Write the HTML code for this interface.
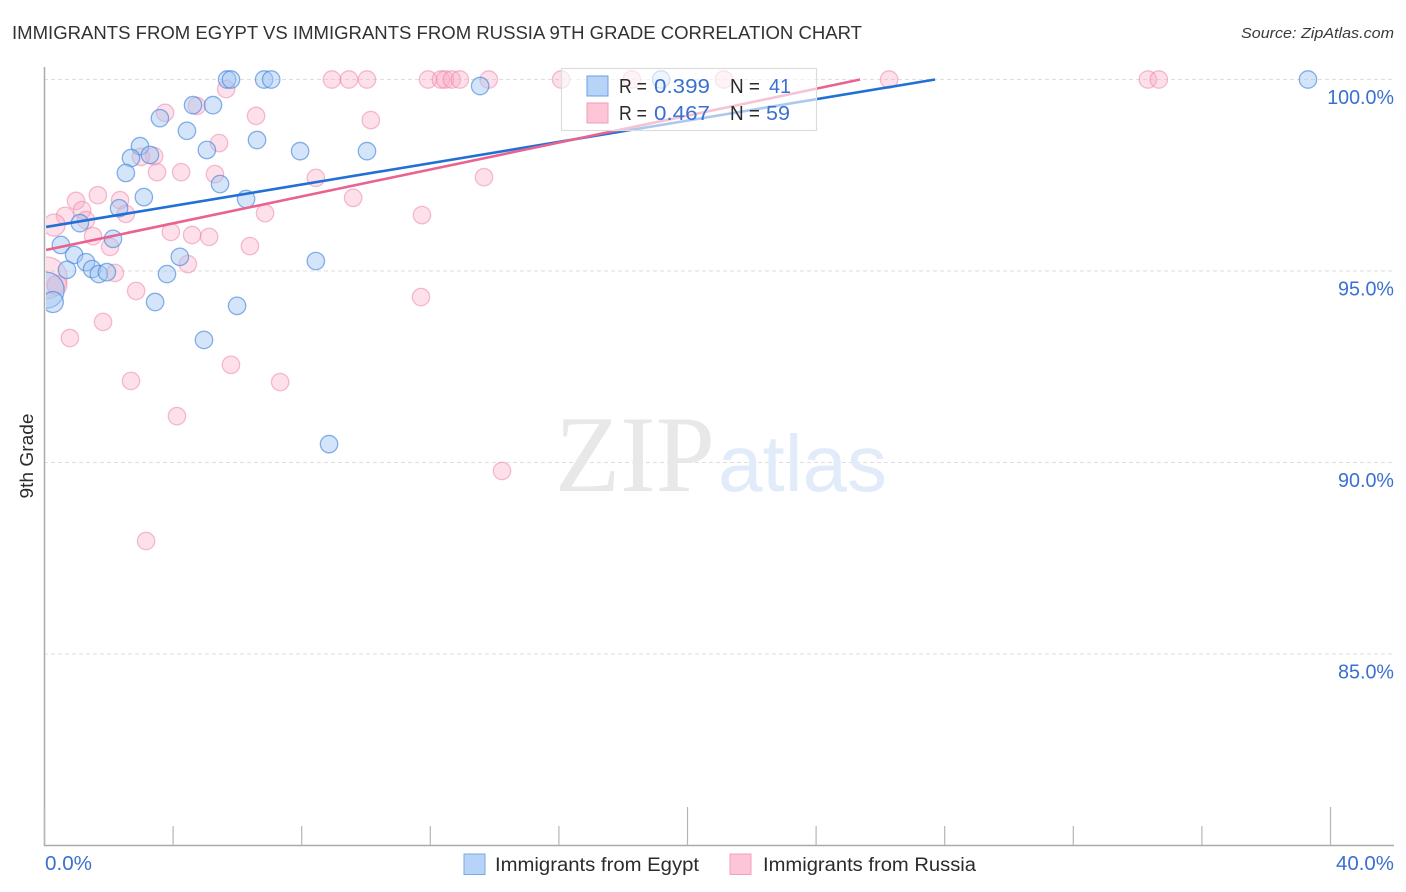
<!DOCTYPE html>
<html lang="en">
<head>
<meta charset="utf-8">
<title>Immigrants from Egypt vs Immigrants from Russia 9th Grade Correlation Chart</title>
<style>
html,body{margin:0;padding:0;background:#fff;}
svg{display:block;font-family:"Liberation Sans",Arial,sans-serif;}
</style>
</head>
<body>
<svg id="chart" xmlns="http://www.w3.org/2000/svg" width="1406" height="892" viewBox="0 0 1406 892">
  <defs>
    <clipPath id="plot-clip"><rect x="46" y="60" width="1348" height="785"/></clipPath>
  </defs>
  <text x="12" y="39" font-size="18.5" fill="#2f3337" textLength="850" lengthAdjust="spacingAndGlyphs">IMMIGRANTS FROM EGYPT VS IMMIGRANTS FROM RUSSIA 9TH GRADE CORRELATION CHART</text>
  <text x="1394" y="38" font-size="15" font-style="italic" fill="#3a3a3a" text-anchor="end" textLength="153" lengthAdjust="spacingAndGlyphs">Source: ZipAtlas.com</text>

  <g id="grid"></g>

  <g>
    <text x="555" y="491" font-family="'Liberation Serif',serif" font-size="109" fill="#e8e8e8" textLength="160" lengthAdjust="spacingAndGlyphs">ZIP</text>
    <text x="718" y="491" font-size="80" fill="#e2ebf9" textLength="169" lengthAdjust="spacingAndGlyphs">atlas</text>
  </g>

  <g id="axes"></g>
  <g id="points" clip-path="url(#plot-clip)"></g>
  <g id="trends" clip-path="url(#plot-clip)"></g>

  <g>
    <rect x="561.5" y="68.5" width="255" height="62" fill="#ffffff" fill-opacity="0.62" stroke="#dcdcdc" stroke-width="1.2"/>
    <rect x="587" y="76" width="21" height="20" fill="#b7d3f8" stroke="#6b9fe3" stroke-width="1"/>
    <rect x="587" y="103" width="21" height="20" fill="#fcc6d8" stroke="#f09cb8" stroke-width="1"/>
    <text x="619" y="93" font-size="20" fill="#2b2b2b" textLength="28" lengthAdjust="spacingAndGlyphs">R =</text>
    <text x="654" y="93" font-size="20" fill="#3a70d0" textLength="56" lengthAdjust="spacingAndGlyphs">0.399</text>
    <text x="730" y="93" font-size="20" fill="#2b2b2b" textLength="30" lengthAdjust="spacingAndGlyphs">N =</text>
    <text x="769" y="93" font-size="20" fill="#3a70d0" textLength="22" lengthAdjust="spacingAndGlyphs">41</text>
    <text x="619" y="120" font-size="20" fill="#2b2b2b" textLength="28" lengthAdjust="spacingAndGlyphs">R =</text>
    <text x="654" y="120" font-size="20" fill="#3a70d0" textLength="56" lengthAdjust="spacingAndGlyphs">0.467</text>
    <text x="730" y="120" font-size="20" fill="#2b2b2b" textLength="30" lengthAdjust="spacingAndGlyphs">N =</text>
    <text x="766" y="120" font-size="20" fill="#3a70d0" textLength="24" lengthAdjust="spacingAndGlyphs">59</text>
  </g>

  <text transform="translate(33,456) rotate(-90)" font-size="18" fill="#2b2b2b" text-anchor="middle" textLength="85" lengthAdjust="spacingAndGlyphs">9th Grade</text>

  <g>
    <rect x="464" y="854" width="21" height="20.5" fill="#b7d3f8" stroke="#7aa8e6" stroke-width="1"/>
    <text x="495" y="871" font-size="19" fill="#2b2b2b" textLength="204" lengthAdjust="spacingAndGlyphs">Immigrants from Egypt</text>
    <rect x="730" y="854" width="21" height="20.5" fill="#fcc6d8" stroke="#f0a0bb" stroke-width="1"/>
    <text x="763" y="871" font-size="19" fill="#2b2b2b" textLength="213" lengthAdjust="spacingAndGlyphs">Immigrants from Russia</text>
  </g>
</svg>

<script>
const xTickValues = [0, 4, 8, 12, 16, 20, 24, 28, 32, 36, 40];
const xMajorTicks = [0, 20, 40];
const xEndLabels = ['0.0%', '40.0%'];
const yTickValues = [100, 95, 90, 85];
const yTickLabels = ['100.0%', '95.0%', '90.0%', '85.0%'];

const egyptX = [5.68, 5.80, 6.83, 7.05, 13.55, 19.18, 39.30, 4.62, 5.24, 3.59, 4.43, 6.61, 2.97, 5.05, 7.95, 10.03, 3.28, 2.69, 2.53, 5.46, 3.09, 6.27, 2.32, 1.10, 2.13, 0.51, 0.92, 1.29, 8.44, 4.21, 0.70, 1.48, 1.69, 1.94, 3.81, 3.44, 5.99, 4.96, 8.85, 0.05, 0.26];
const egyptY = [100, 100, 100, 100, 99.83, 100, 100, 99.33, 99.33, 98.99, 98.66, 98.42, 98.26, 98.16, 98.13, 98.13, 98.03, 97.95, 97.56, 97.27, 96.93, 96.88, 96.64, 96.25, 95.84, 95.68, 95.42, 95.23, 95.26, 95.37, 95.03, 95.05, 94.92, 94.97, 94.92, 94.19, 94.09, 93.20, 90.48, 94.50, 94.19];
const egyptPopulation = [1, 1, 1, 1, 1, 1, 1, 1, 1, 1, 1, 1, 1, 1, 1, 1, 1, 1, 1, 1, 1, 1, 1, 1, 1, 1, 1, 1, 1, 1, 1, 1, 1, 1, 1, 1, 1, 1, 1, 4.3, 1.45];

const russiaX = [8.94, 9.47, 10.03, 11.93, 12.33, 12.46, 12.67, 12.92, 13.82, 16.07, 18.27, 21.13, 26.27, 34.32, 34.66, 5.65, 3.75, 4.74, 10.15, 6.58, 5.43, 3.41, 3.00, 4.25, 3.50, 5.30, 8.44, 13.67, 9.60, 1.66, 0.98, 2.35, 1.17, 2.53, 0.64, 0.30, 1.29, 6.86, 11.74, 1.51, 3.93, 4.59, 5.12, 2.04, 6.39, 4.46, 2.19, 0.05, 0.39, 2.85, 11.71, 1.82, 0.79, 5.80, 2.69, 7.33, 4.12, 14.23, 3.16];
const russiaY = [100, 100, 100, 100, 100, 100, 100, 100, 100, 100, 100, 100, 100, 100, 100, 99.75, 99.13, 99.31, 98.94, 99.05, 98.34, 98.00, 97.98, 97.58, 97.58, 97.53, 97.43, 97.45, 96.91, 96.98, 96.83, 96.85, 96.59, 96.49, 96.44, 96.20, 96.33, 96.51, 96.46, 95.91, 96.02, 95.94, 95.89, 95.63, 95.65, 95.18, 94.95, 94.82, 94.63, 94.48, 94.32, 93.67, 93.25, 92.55, 92.13, 92.10, 91.21, 89.78, 87.95];
const russiaPopulation = [1, 1, 1, 1, 1, 1, 1, 1, 1, 1, 1, 1, 1, 1, 1, 1, 1, 1, 1, 1, 1, 1, 1, 1, 1, 1, 1, 1, 1, 1, 1, 1, 1, 1, 1, 1.6, 1, 1, 1, 1, 1, 1, 1, 1, 1, 1, 1, 5.8, 1.3, 1, 1, 1, 1, 1, 1, 1, 1, 1, 1];

const egyptTrendX = [0.05, 27.7];
const egyptTrendY = [96.15, 100];
const russiaTrendX = [0.05, 25.37];
const russiaTrendY = [95.55, 100];

const NS = 'http://www.w3.org/2000/svg';
function xScale(v) { return 44.5 + v * 32.15; }
function yScale(v) { return 79.5 + (100 - v) * 38.3; }
function rScale(p) { return 8.7 * Math.sqrt(p); }
function labelWidth(s) { return s.length * 9.3 + (s.length > 5 ? 11 : 9.5); }
function make(tag, attrs, parent) {
  const el = document.createElementNS(NS, tag);
  Object.keys(attrs).forEach(function (k) { el.setAttribute(k, attrs[k]); });
  parent.appendChild(el);
  return el;
}

const grid = document.getElementById('grid');
const axes = document.getElementById('axes');
const points = document.getElementById('points');
const trends = document.getElementById('trends');

yTickValues.forEach(function (v, i) {
  const line = make('line', { x1: 44, x2: 1394, y1: yScale(v), y2: yScale(v), stroke: '#dedede', 'stroke-width': 1, 'stroke-dasharray': '4 3' }, grid);
  
  
  const label = make('text', { x: 1394, y: yScale(v) + 24.5, 'font-size': 20, fill: '#3a70d0', 'text-anchor': 'end', textLength: labelWidth(yTickLabels[i]), lengthAdjust: 'spacingAndGlyphs' }, axes);
  
  
  label.textContent = yTickLabels[i];
});

const yAxis = make('line', { x1: 44.5, x2: 44.5, y1: 67, y2: 846, stroke: '#aaaaaa', 'stroke-width': 1.5 }, axes);


const xAxis = make('line', { x1: 44, x2: 1394, y1: 845.5, y2: 845.5, stroke: '#aaaaaa', 'stroke-width': 1.5 }, axes);



xTickValues.forEach(function (v) {
  const major = xMajorTicks.indexOf(v) >= 0;
  const tick = make('line', { x1: xScale(v), x2: xScale(v), y1: major ? 807 : 826, y2: 845, stroke: '#b5b5b5', 'stroke-width': 1.2 }, axes);
  
  
});

const xLabelStart = make('text', { x: 45, y: 870, 'font-size': 20, fill: '#3a70d0', textLength: 47, lengthAdjust: 'spacingAndGlyphs' }, axes);


xLabelStart.textContent = xEndLabels[0];
const xLabelEnd = make('text', { x: 1394, y: 870, 'font-size': 20, fill: '#3a70d0', 'text-anchor': 'end', textLength: 58, lengthAdjust: 'spacingAndGlyphs' }, axes);


xLabelEnd.textContent = xEndLabels[1];

russiaX.forEach(function (v, i) {
  const c = make('circle', { cx: xScale(v), cy: yScale(russiaY[i]), r: rScale(russiaPopulation[i]), fill: '#f9a8c2', 'fill-opacity': 0.36, stroke: '#ec7fa3', 'stroke-opacity': 0.5, 'stroke-width': 1.3 }, points);
  
  
});
egyptX.forEach(function (v, i) {
  const c = make('circle', { cx: xScale(v), cy: yScale(egyptY[i]), r: rScale(egyptPopulation[i]), fill: '#a4c6f3', 'fill-opacity': 0.46, stroke: '#3f83dc', 'stroke-opacity': 0.62, 'stroke-width': 1.3 }, points);
  
  
});

const egyptLine = make('line', { x1: xScale(egyptTrendX[0]), y1: yScale(egyptTrendY[0]), x2: xScale(egyptTrendX[1]), y2: yScale(egyptTrendY[1]), stroke: '#2270d6', 'stroke-width': 2.6 }, trends);


const russiaLine = make('line', { x1: xScale(russiaTrendX[0]), y1: yScale(russiaTrendY[0]), x2: xScale(russiaTrendX[1]), y2: yScale(russiaTrendY[1]), stroke: '#e8638f', 'stroke-width': 2.6 }, trends);


</script>
</body>
</html>
